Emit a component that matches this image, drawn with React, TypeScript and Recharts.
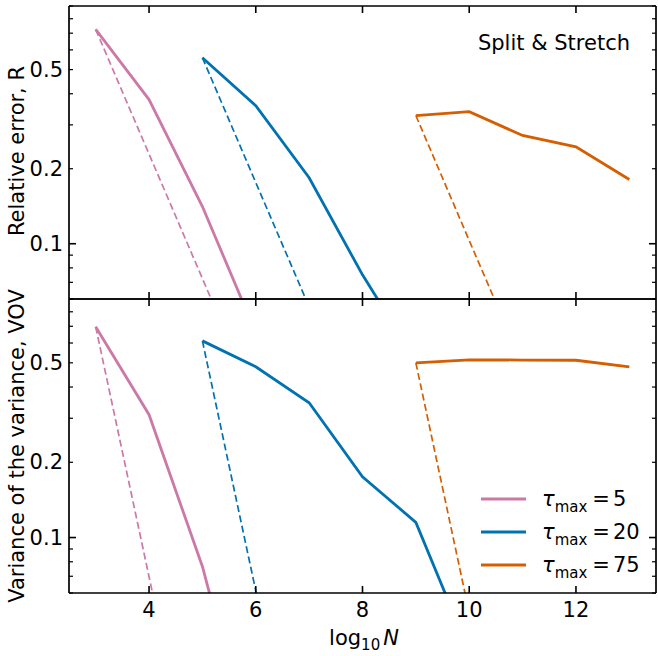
import { LineChart, Line, XAxis, YAxis, Legend, Label } from "recharts";

const font = "DejaVu Sans";

const xTicks = [4, 6, 8, 10, 12];
const yTicks = [0.06, 0.07, 0.08, 0.09, 0.1, 0.2, 0.3, 0.4, 0.5, 0.6, 0.7, 0.8, 0.9];
const yLabeled = [0.1, 0.2, 0.5];

// top panel: relative error R (dashed = N^-1/2 reference from the first point)
const rTau5N = [3, 4, 5, 6];
const rTau5 = [0.725, 0.379, 0.141, 0.044];
const rTau5Ref = [0.725, 0.229, 0.0725, 0.0229];
const rTau20N = [5, 6, 7, 8, 9];
const rTau20 = [0.558, 0.358, 0.184, 0.075, 0.034];
const rTau20Ref = [0.558, 0.176, 0.0558, 0.0176];
const rTau75N = [9, 10, 11, 12, 13];
const rTau75 = [0.327, 0.339, 0.272, 0.245, 0.181];
const rTau75Ref = [0.327, 0.103, 0.0327];

// bottom panel: variance of the variance (dashed = N^-1 reference)
const vTau5N = [3, 4, 5, 6];
const vTau5 = [0.697, 0.31, 0.0766, 0.012];
const vTau5Ref = [0.697, 0.0697, 0.00697];
const vTau20N = [5, 6, 7, 8, 9, 10];
const vTau20 = [0.612, 0.482, 0.346, 0.175, 0.115, 0.035];
const vTau20Ref = [0.612, 0.0612, 0.00612];
const vTau75N = [9, 10, 11, 12, 13];
const vTau75 = [0.5, 0.514, 0.513, 0.512, 0.482];
const vTau75Ref = [0.5, 0.05];

const legendLabels = ["5", "20", "75"];
const colors = ["#CC79A7", "#0072B2", "#D55E00"];

const pts = (n: number[], vals: number[]) =>
  vals.map((v, i) => ({ n: n[i], v }));

function LeftTick({ x, y, payload }: any) {
  const v = payload.value;
  const major = v === 0.1;
  return (
    <g>
      <line x1={x} x2={x + (major ? 7 : 4)} y1={y} y2={y} stroke="#000" strokeWidth={major ? 1.6 : 1.2} />
      {yLabeled.includes(v) && (
        <text x={x - 6} y={y} textAnchor="end" dominantBaseline="central" fontSize={21} fontFamily={font} fill="#000">
          {String(v)}
        </text>
      )}
    </g>
  );
}

function RightTick({ x, y, payload }: any) {
  const major = payload.value === 0.1;
  return <line x1={x - (major ? 7 : 4)} x2={x} y1={y} y2={y} stroke="#000" strokeWidth={major ? 1.6 : 1.2} />;
}

const bottomTick = (withLabel: boolean) => ({ x, y, payload }: any) => (
  <g>
    <line x1={x} x2={x} y1={y} y2={y - 7} stroke="#000" strokeWidth={1.6} />
    {withLabel && (
      <text x={x} y={y + 24} textAnchor="middle" fontSize={21} fontFamily={font} fill="#000">
        {payload.value}
      </text>
    )}
  </g>
);

function TopTick({ x, y }: any) {
  return <line x1={x} x2={x} y1={y} y2={y + 7} stroke="#000" strokeWidth={1.6} />;
}

const axisLine = { stroke: "#000", strokeWidth: 1.7 };

function yLabel(text: string, cy: number) {
  return () => (
    <text
      transform={`rotate(-90, 17, ${cy})`}
      x={17}
      y={cy}
      textAnchor="middle"
      dominantBaseline="central"
      fontSize={21}
      fontFamily={font}
      fill="#000"
    >
      {text}
    </text>
  );
}

function series(
  data: [number[], number[], number[], number[], number[], number[], number[], number[], number[]]
) {
  const [n5, s5, d5, n20, s20, d20, n75, s75, d75] = data;
  const groups = [
    [n5, s5, d5],
    [n20, s20, d20],
    [n75, s75, d75],
  ];
  return [
    ...groups.map(([n, , d], i) => (
      <Line
        key={`d${i}`}
        data={pts(n, d)}
        dataKey="v"
        xAxisId="b"
        yAxisId="l"
        stroke={colors[i]}
        strokeWidth={1.7}
        strokeDasharray="7 3.5"
        dot={false}
        isAnimationActive={false}
      />
    )),
    ...groups.map(([n, s], i) => (
      <Line
        key={`s${i}`}
        data={pts(n, s)}
        dataKey="v"
        xAxisId="b"
        yAxisId="l"
        stroke={colors[i]}
        strokeWidth={2.8}
        dot={false}
        isAnimationActive={false}
      />
    )),
  ];
}

function LegendBox() {
  return (
    <div style={{ fontFamily: font, fontSize: 21, color: "#000" }}>
      {legendLabels.map((t, i) => (
        <div key={t} style={{ display: "flex", alignItems: "center", height: 33 }}>
          <svg width={62} height={10}>
            <line x1={1} x2={46} y1={5} y2={5} stroke={colors[i]} strokeWidth={3} />
          </svg>
          <span style={{ whiteSpace: "nowrap" }}>
            <span style={{ fontStyle: "italic" }}>τ</span>
            <span style={{ fontSize: 15, position: "relative", top: 6 }}>max</span>
            <span style={{ margin: "0 3px 0 5px" }}>=</span>
            {t}
          </span>
        </div>
      ))}
    </div>
  );
}

const xDomain = [2.5, 13.5];
const yDomain = [0.06, 0.9];

export default function App() {
  return (
    <div style={{ position: "absolute", left: 0, top: 0, width: 658, height: 656, background: "#fff" }}>
      <div style={{ position: "absolute", left: 0, top: 0 }}>
        <LineChart width={658} height={300} margin={{ top: 5, right: 1, bottom: 0, left: 0 }}>
          <XAxis
            xAxisId="b"
            dataKey="n"
            type="number"
            domain={xDomain}
            allowDataOverflow
            ticks={xTicks}
            interval={0}
            height={1}
            tickSize={0}
            tickMargin={0}
            axisLine={axisLine}
            tickLine={false}
            tick={bottomTick(false)}
          />
          <XAxis
            xAxisId="t"
            orientation="top"
            dataKey="n"
            type="number"
            domain={xDomain}
            allowDataOverflow
            ticks={xTicks}
            interval={0}
            height={1}
            tickSize={0}
            tickMargin={0}
            axisLine={axisLine}
            tickLine={false}
            tick={TopTick}
          />
          <YAxis
            yAxisId="l"
            type="number"
            scale="log"
            domain={yDomain}
            allowDataOverflow
            ticks={yTicks}
            interval={0}
            width={69}
            tickSize={0}
            tickMargin={0}
            axisLine={axisLine}
            tickLine={false}
            tick={LeftTick}
          >
            <Label content={yLabel("Relative error, R", 151)} />
          </YAxis>
          <YAxis
            yAxisId="r"
            orientation="right"
            type="number"
            scale="log"
            domain={yDomain}
            allowDataOverflow
            ticks={yTicks}
            interval={0}
            width={1}
            tickSize={0}
            tickMargin={0}
            axisLine={axisLine}
            tickLine={false}
            tick={RightTick}
          >
            <Label
              content={() => (
                <text x={630} y={50} textAnchor="end" fontSize={21} fontFamily={font} fill="#000">
                  Split &amp; Stretch
                </text>
              )}
            />
          </YAxis>
          {series([rTau5N, rTau5, rTau5Ref, rTau20N, rTau20, rTau20Ref, rTau75N, rTau75, rTau75Ref])}
        </LineChart>
      </div>
      <div style={{ position: "absolute", left: 0, top: 0 }}>
        <LineChart width={658} height={656} margin={{ top: 298, right: 1, bottom: 0, left: 0 }}>
          <XAxis
            xAxisId="b"
            dataKey="n"
            type="number"
            domain={xDomain}
            allowDataOverflow
            ticks={xTicks}
            interval={0}
            height={63}
            tickSize={0}
            tickMargin={0}
            axisLine={axisLine}
            tickLine={false}
            tick={bottomTick(true)}
          >
            <Label
              content={() => (
                <text x={364} y={645} textAnchor="middle" fontSize={21} fontFamily={font} fill="#000">
                  log
                  <tspan fontSize={15} dy={5}>10</tspan>
                  <tspan dy={-5} dx={3} fontStyle="italic">N</tspan>
                </text>
              )}
            />
          </XAxis>
          <XAxis
            xAxisId="t"
            orientation="top"
            dataKey="n"
            type="number"
            domain={xDomain}
            allowDataOverflow
            ticks={xTicks}
            interval={0}
            height={1}
            tickSize={0}
            tickMargin={0}
            axisLine={axisLine}
            tickLine={false}
            tick={TopTick}
          />
          <YAxis
            yAxisId="l"
            type="number"
            scale="log"
            domain={yDomain}
            allowDataOverflow
            ticks={yTicks}
            interval={0}
            width={69}
            tickSize={0}
            tickMargin={0}
            axisLine={axisLine}
            tickLine={false}
            tick={LeftTick}
          >
            <Label content={yLabel("Variance of the variance, VOV", 446)} />
          </YAxis>
          <YAxis
            yAxisId="r"
            orientation="right"
            type="number"
            scale="log"
            domain={yDomain}
            allowDataOverflow
            ticks={yTicks}
            interval={0}
            width={1}
            tickSize={0}
            tickMargin={0}
            axisLine={axisLine}
            tickLine={false}
            tick={RightTick}
          />
          {series([vTau5N, vTau5, vTau5Ref, vTau20N, vTau20, vTau20Ref, vTau75N, vTau75, vTau75Ref])}
          <Legend
            layout="vertical"
            align="center"
            verticalAlign="middle"
            content={() => <LegendBox />}
            wrapperStyle={{ left: 480, top: 482, width: 170, height: 100 }}
          />
        </LineChart>
      </div>
    </div>
  );
}
